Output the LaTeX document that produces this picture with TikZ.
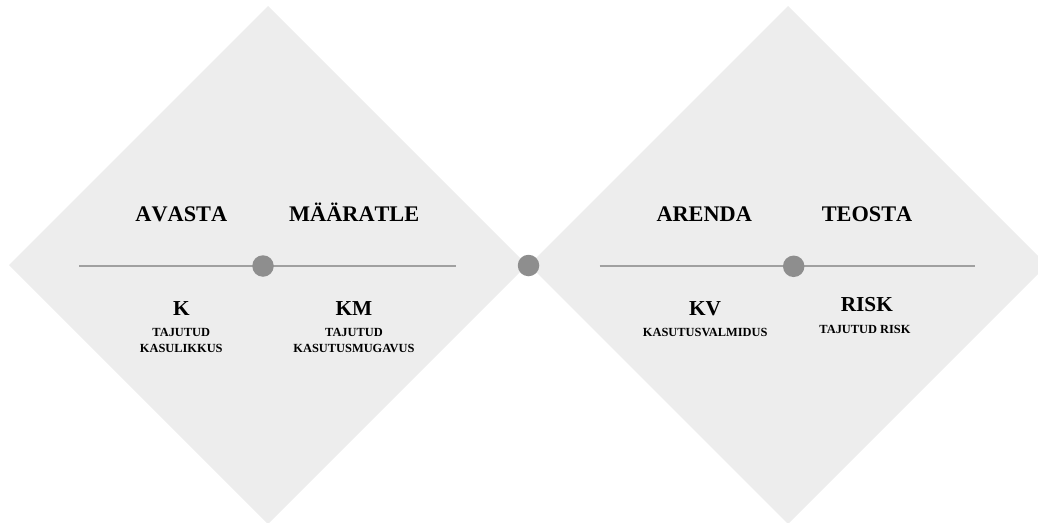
\documentclass[tikz,border=0pt]{standalone}
\usepackage{fontspec}
\setmainfont{Liberation Serif}
\newfontfamily\headfont[Kerning=Off]{Liberation Serif}
\definecolor{dfill}{HTML}{EDEDED}
\definecolor{dline}{HTML}{A0A0A0}
\definecolor{ddot}{HTML}{8E8E8E}
\tikzset{
  head/.style={anchor=base, inner sep=0pt, font=\headfont\bfseries\fontsize{22.3}{26}\selectfont},
  abbr/.style={anchor=base, inner sep=0pt, font=\bfseries\fontsize{21.3}{25}\selectfont},
  small/.style={anchor=base, inner sep=0pt, font=\bfseries\fontsize{12.4}{16}\selectfont},
  dotnode/.style={circle, fill=ddot, inner sep=0pt, minimum size=21.5pt},
  axis/.style={draw=dline, line width=1.8pt}
}
\begin{document}
\begin{tikzpicture}[x=1pt,y=-1pt]
\useasboundingbox (0,0) rectangle (1038,522);
\clip (0,0) rectangle (1038,522);
% diamonds
\fill[dfill] (268,6) -- (527,265) -- (268,524) -- (9,265) -- cycle;
\fill[dfill] (788,6) -- (1047,265) -- (788,524) -- (529,265) -- cycle;
% axes
\coordinate (la) at (79,266);
\coordinate (lb) at (456,266);
\coordinate (ra) at (599.5,266);
\coordinate (rb) at (975,266);
\draw[axis] (la) -- (lb);
\draw[axis] (ra) -- (rb);
% dots
\node[dotnode] (d1) at (263,266) {};
\node[dotnode] (d2) at (528.5,265.5) {};
\node[dotnode] (d3) at (793.7,266.3) {};
% left diamond text
\node[head] (avasta) at (181.3,221.7) {AVASTA};
\node[head] (maaratle) at (354.2,221.7) {MÄÄRATLE};
\node[abbr] (k) at (181.3,315) {K};
\node[small] (k1) at (181.3,336.7) {TAJUTUD};
\node[small] (k2) at (181.3,352.7) {KASULIKKUS};
\node[abbr] (km) at (354,315) {KM};
\node[small] (km1) at (354,336.7) {TAJUTUD};
\node[small] (km2) at (354,352.7) {KASUTUSMUGAVUS};
% right diamond text
\node[head] (arenda) at (704.2,221.7) {ARENDA};
\node[head] (teosta) at (867,221.7) {TEOSTA};
\node[abbr] (kv) at (705,315) {KV};
\node[small] (kv1) at (705.2,336.7) {KASUTUSVALMIDUS};
\node[abbr] (risk) at (866.8,311.7) {RISK};
\node[small] (risk1) at (865,333.3) {TAJUTUD RISK};
\end{tikzpicture}
\end{document}
